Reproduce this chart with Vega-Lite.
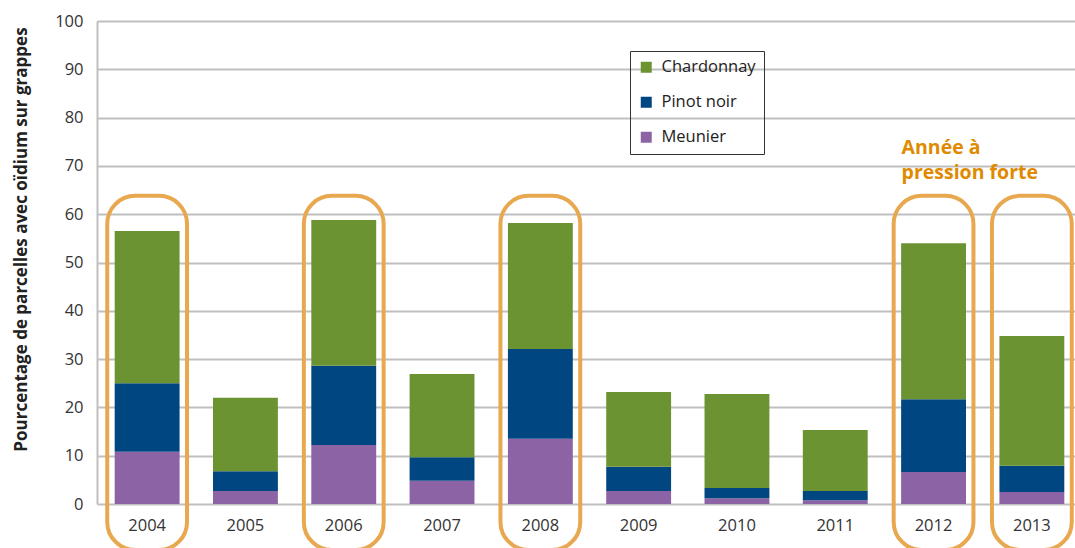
{
  "$schema": "https://vega.github.io/schema/vega-lite/v6.json",
  "width": 985,
  "height": 483,
  "autosize": {"type": "none"},
  "padding": {"left": 97, "top": 21, "right": 0, "bottom": 44},
  "background": "white",
  "config": {
    "font": "Open Sans",
    "view": {"stroke": null}
  },
  "datasets": {
    "bars": [
      {"annee": "2004", "cepage": "Meunier", "ordre": 1, "valeur": 10.8},
      {"annee": "2004", "cepage": "Pinot noir", "ordre": 2, "valeur": 14.2},
      {"annee": "2004", "cepage": "Chardonnay", "ordre": 3, "valeur": 31.5},
      {"annee": "2005", "cepage": "Meunier", "ordre": 1, "valeur": 2.7},
      {"annee": "2005", "cepage": "Pinot noir", "ordre": 2, "valeur": 4.1},
      {"annee": "2005", "cepage": "Chardonnay", "ordre": 3, "valeur": 15.2},
      {"annee": "2006", "cepage": "Meunier", "ordre": 1, "valeur": 12.2},
      {"annee": "2006", "cepage": "Pinot noir", "ordre": 2, "valeur": 16.4},
      {"annee": "2006", "cepage": "Chardonnay", "ordre": 3, "valeur": 30.2},
      {"annee": "2007", "cepage": "Meunier", "ordre": 1, "valeur": 4.8},
      {"annee": "2007", "cepage": "Pinot noir", "ordre": 2, "valeur": 4.9},
      {"annee": "2007", "cepage": "Chardonnay", "ordre": 3, "valeur": 17.2},
      {"annee": "2008", "cepage": "Meunier", "ordre": 1, "valeur": 13.5},
      {"annee": "2008", "cepage": "Pinot noir", "ordre": 2, "valeur": 18.6},
      {"annee": "2008", "cepage": "Chardonnay", "ordre": 3, "valeur": 26.1},
      {"annee": "2009", "cepage": "Meunier", "ordre": 1, "valeur": 2.7},
      {"annee": "2009", "cepage": "Pinot noir", "ordre": 2, "valeur": 5.0},
      {"annee": "2009", "cepage": "Chardonnay", "ordre": 3, "valeur": 15.5},
      {"annee": "2010", "cepage": "Meunier", "ordre": 1, "valeur": 1.2},
      {"annee": "2010", "cepage": "Pinot noir", "ordre": 2, "valeur": 2.1},
      {"annee": "2010", "cepage": "Chardonnay", "ordre": 3, "valeur": 19.5},
      {"annee": "2011", "cepage": "Meunier", "ordre": 1, "valeur": 0.8},
      {"annee": "2011", "cepage": "Pinot noir", "ordre": 2, "valeur": 1.9},
      {"annee": "2011", "cepage": "Chardonnay", "ordre": 3, "valeur": 12.6},
      {"annee": "2012", "cepage": "Meunier", "ordre": 1, "valeur": 6.6},
      {"annee": "2012", "cepage": "Pinot noir", "ordre": 2, "valeur": 15.1},
      {"annee": "2012", "cepage": "Chardonnay", "ordre": 3, "valeur": 32.3},
      {"annee": "2013", "cepage": "Meunier", "ordre": 1, "valeur": 2.5},
      {"annee": "2013", "cepage": "Pinot noir", "ordre": 2, "valeur": 5.4},
      {"annee": "2013", "cepage": "Chardonnay", "ordre": 3, "valeur": 26.9}
    ],
    "fortes": [
      {"annee": "2004"},
      {"annee": "2006"},
      {"annee": "2008"},
      {"annee": "2012"},
      {"annee": "2013"}
    ],
    "note": [
      {"annee": "2012", "texte": "Année à\npression forte"}
    ]
  },
  "layer": [
    {
      "data": {"name": "bars"},
      "mark": {"type": "bar"},
      "encoding": {
        "x": {
          "field": "annee",
          "type": "nominal",
          "sort": null,
          "scale": {"paddingInner": 0.34, "paddingOuter": 0.18},
          "axis": {
            "title": null,
            "labelAngle": 0,
            "ticks": false,
            "domain": false,
            "labelFontSize": 16.5,
            "labelColor": "#333333",
            "labelPadding": 13
          }
        },
        "y": {
          "aggregate": "sum",
          "field": "valeur",
          "type": "quantitative",
          "stack": "zero",
          "scale": {"domain": [0, 100]},
          "axis": {
            "title": "Pourcentage de parcelles avec oïdium sur grappes",
            "titleFontSize": 17,
            "titleFontWeight": "bold",
            "titleColor": "#222222",
            "titlePadding": 24,
            "titleY": 218,
            "values": [0, 10, 20, 30, 40, 50, 60, 70, 80, 90, 100],
            "labelFontSize": 16.5,
            "labelColor": "#333333",
            "labelPadding": 14,
            "ticks": false,
            "domainColor": "#bfbfbf",
            "domainWidth": 2,
            "gridColor": "#bfbfbf",
            "gridWidth": 2
          }
        },
        "color": {
          "field": "cepage",
          "type": "nominal",
          "scale": {
            "domain": ["Chardonnay", "Pinot noir", "Meunier"],
            "range": ["#6b9332", "#004680", "#8c63a5"]
          },
          "legend": {
            "title": null,
            "orient": "none",
            "legendX": 533,
            "legendY": 30,
            "strokeColor": "#333333",
            "padding": 8,
            "symbolType": "square",
            "symbolSize": 121,
            "symbolStrokeWidth": 0,
            "labelFontSize": 16.5,
            "labelColor": "#222222",
            "labelOffset": 7,
            "rowPadding": 18
          }
        },
        "order": {"field": "ordre", "type": "quantitative"}
      }
    },
    {
      "data": {"name": "fortes"},
      "mark": {
        "type": "bar",
        "fill": null,
        "fillOpacity": 0,
        "stroke": "#e8a850",
        "strokeWidth": 4,
        "cornerRadius": 28,
        "width": {"band": 1.23},
        "clip": false
      },
      "encoding": {
        "x": {"field": "annee", "type": "nominal", "sort": null},
        "y": {"datum": 63.8},
        "y2": {"datum": -9.5}
      }
    },
    {
      "data": {"name": "note"},
      "mark": {
        "type": "text",
        "align": "left",
        "baseline": "alphabetic",
        "dx": -32,
        "fontSize": 19.5,
        "fontWeight": "bold",
        "color": "#e08a00",
        "lineHeight": 25,
        "lineBreak": "\n"
      },
      "encoding": {
        "x": {"field": "annee", "type": "nominal", "sort": null},
        "y": {"datum": 72.4},
        "text": {"field": "texte", "type": "nominal"}
      }
    }
  ]
}
